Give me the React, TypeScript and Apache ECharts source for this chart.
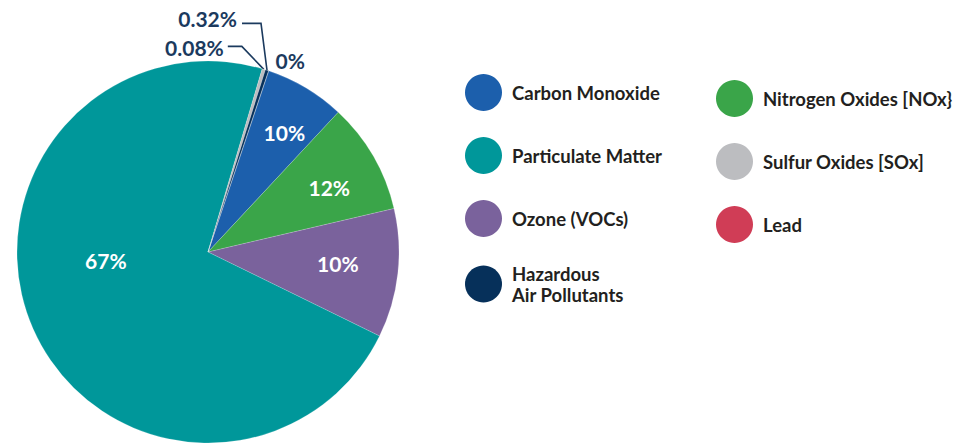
import React, { useEffect, useRef } from 'react';
import * as echarts from 'echarts';

// Pie slices in clockwise drawing order
const names = [
  'Carbon Monoxide',
  'Nitrogen Oxides [NOx}',
  'Ozone (VOCs)',
  'Particulate Matter',
  'Sulfur Oxides [SOx]',
  'Hazardous\nAir Pollutants',
  'Lead',
];
// slice sizes as drawn in the picture
const shares = [6.8, 9.4, 10.9, 72.3, 0.28, 0.28, 0];
// labels printed on the chart
const shareLabels = ['10%', '12%', '10%', '67%', '0.08%', '0.32%', '0%'];
const colors = ['#1c5fac', '#3aa549', '#7a629c', '#00979a', '#bcbdc0', '#06305a', '#d03d56'];

const legendLeft = ['Carbon Monoxide', 'Particulate Matter', 'Ozone (VOCs)', 'Hazardous\nAir Pollutants'];
const legendRight = ['Nitrogen Oxides [NOx}', 'Sulfur Oxides [SOx]', 'Lead'];

const FONT = 'Lato, "Noto Sans", sans-serif';
const NAVY = '#1b3a5e';

// label placement styling per slice
const insideOffsets: Record<number, number[]> = {
  0: [26, -35],
  1: [36, -15],
  2: [32, 0],
  3: [-12, -31],
};

export default function App() {
  const ref = useRef<HTMLDivElement>(null);
  useEffect(() => {
    if (!ref.current) return;
    const chart = echarts.init(ref.current, undefined, { renderer: 'svg' });

    const data = names.map((n, i) => {
      const inside = insideOffsets[i];
      return {
        name: n,
        value: shares[i],
        itemStyle: { color: colors[i] },
        label: inside
          ? {
              position: 'inside',
              offset: inside,
              color: '#ffffff',
              fontSize: 21,
              fontWeight: 'bold',
              fontFamily: FONT,
            }
          : {
              position: 'outside',
              color: NAVY,
              fontSize: 21,
              fontWeight: 'bold',
              fontFamily: FONT,
            },
        labelLine: inside
          ? { show: false }
          : {
              show: true,
              lineStyle: { color: NAVY, width: 1.6, opacity: n === 'Lead' ? 0 : 1 },
            },
      };
    });

    const legendCommon = {
      orient: 'vertical' as const,
      icon: 'circle',
      itemWidth: 47,
      itemHeight: 37,
      itemGap: 26,
      itemStyle: { borderWidth: 0 },
      textStyle: {
        fontFamily: FONT,
        fontSize: 18.5,
        fontWeight: 'bold',
        color: '#231f20',
        lineHeight: 21,
      },
      selectedMode: false,
    };

    chart.setOption({
      animation: false,
      legend: [
        { ...legendCommon, left: 460, top: 69, data: legendLeft },
        { ...legendCommon, left: 711, top: 75, data: legendRight },
      ],
      series: [
        {
          type: 'pie',
          center: [208, 252],
          radius: [0, 191],
          startAngle: 71.5,
          clockwise: true,
          avoidLabelOverlap: false,
          itemStyle: { borderColor: 'rgba(255,255,255,0.35)', borderWidth: 0.5 },
          emphasis: { disabled: true },
          label: {
            formatter: (p: any) => shareLabels[p.dataIndex],
          },
          labelLayout: (p: any) => {
            const pts = p.labelLinePoints;
            if (!pts || !pts[0]) return {};
            const name = names[p.dataIndex];
            const [x0, y0] = pts[0];
            if (name === 'Sulfur Oxides [SOx]') {
              const p1 = [x0 - 22, y0 - 23];
              const p2 = [p1[0] - 14, p1[1]];
              return {
                x: p2[0] - 4,
                y: p2[1] + 1,
                align: 'right',
                verticalAlign: 'middle',
                labelLinePoints: [[x0, y0], p1, p2],
              };
            }
            if (name === 'Hazardous\nAir Pollutants') {
              const p1 = [x0 - 6, y0 - 47];
              const p2 = [p1[0] - 19, p1[1]];
              return {
                x: p2[0] - 5,
                y: p2[1] - 5,
                align: 'right',
                verticalAlign: 'middle',
                labelLinePoints: [[x0, y0], p1, p2],
              };
            }
            if (name === 'Lead') {
              return {
                x: x0 + 7,
                y: y0 - 10,
                align: 'left',
                verticalAlign: 'middle',
                labelLinePoints: [[x0, y0], [x0, y0], [x0, y0]],
              };
            }
            return {};
          },
          data,
        },
      ],
    });
    return () => chart.dispose();
  }, []);
  return (
    <div
      ref={ref}
      style={{ position: 'fixed', left: 0, top: 0, width: 973, height: 443, background: '#ffffff' }}
    />
  );
}
